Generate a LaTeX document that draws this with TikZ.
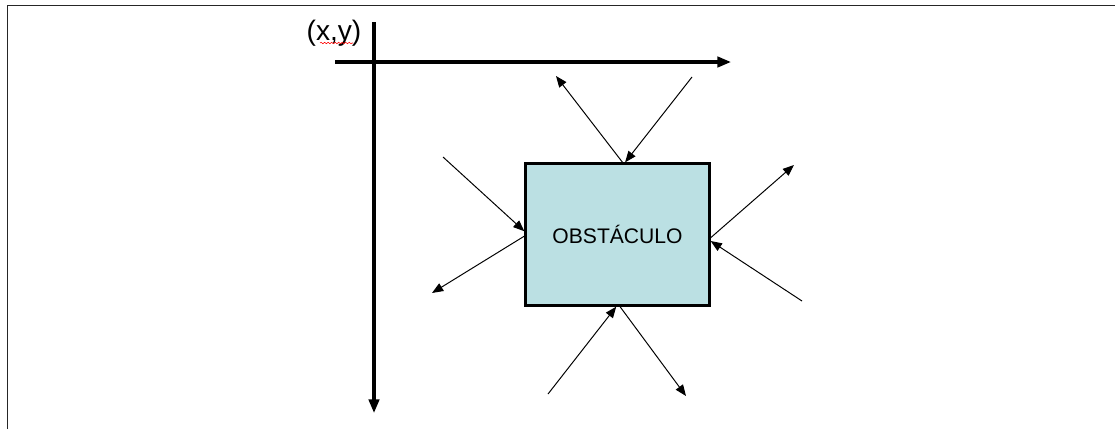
\documentclass[tikz,border=0pt]{standalone}
\usepackage{fontspec}
\setmainfont{Liberation Sans}
\usetikzlibrary{arrows.meta,decorations.pathmorphing}
\definecolor{obsfill}{HTML}{BBE0E3}
\begin{document}
\begin{tikzpicture}[x=0.025cm,y=-0.025cm,
axis/.style={-{Triangle[length=3.4mm,width=2.6mm]},line width=2.2pt},
ray/.style={-{Triangle[length=2.8mm,width=2.2mm]},line width=.7pt},
obstacle/.style={draw,line width=1.6pt,fill=obsfill,minimum width=4.6cm,minimum height=3.55cm,inner sep=0pt,font=\fontsize{15}{17}\selectfont}]
\useasboundingbox (0,0) rectangle (1115,429);
\draw[line width=1.4pt,black!85](7.5,429)--(7.5,5.5)--(1115,5.5);
% ejes
\coordinate (yo) at (374,22);\coordinate (ye) at (374,413);
\coordinate (xo) at (335,62);\coordinate (xe) at (731,62);
\draw[axis](yo)--(ye);\draw[axis](xo)--(xe);
\node[font=\fontsize{20}{22}\selectfont,inner sep=0pt](xy) at (334,33){(x,y)};
\draw[red,line width=.4pt,decorate,decoration={snake,amplitude=.5pt,segment length=2.5pt}](320,43)--(353,43);
% obstaculo
\node[obstacle](obs) at (617.5,234.5){OBST\'ACULO};
% extremos libres
\coordinate (a1) at (556,76);\coordinate (a2) at (692,77);
\coordinate (a3) at (443,157);\coordinate (a4) at (432,293);
\coordinate (a5) at (794,165);\coordinate (a6) at (802,301);
\coordinate (a7) at (548,394);\coordinate (a8) at (686,396);
\draw[ray](obs.86)--(a1);\draw[ray](a2)--(obs.84);
\draw[ray](a3)--(obs.178);\draw[ray](obs.181)--(a4);
\draw[ray](obs.358)--(a5);\draw[ray](a6)--(obs.356);
\draw[ray](a7)--(obs.269);\draw[ray](obs.272)--(a8);
\end{tikzpicture}
\end{document}
